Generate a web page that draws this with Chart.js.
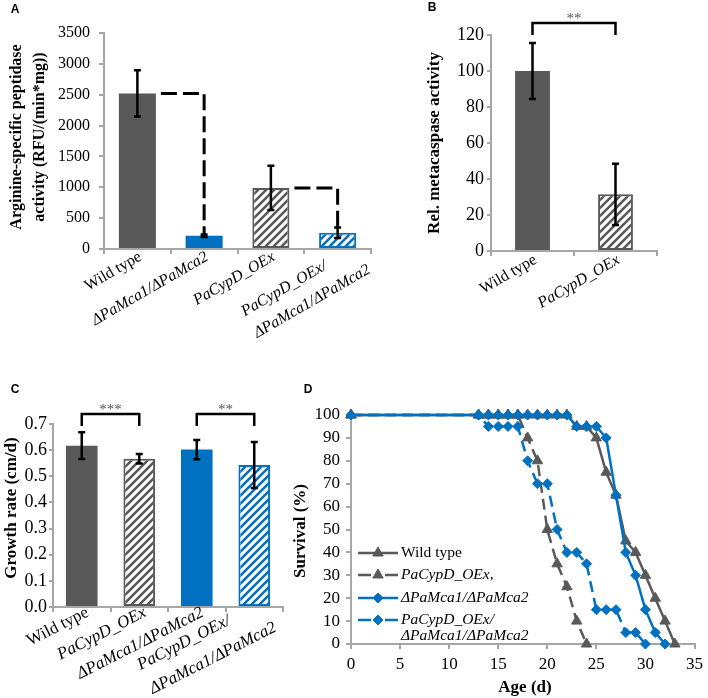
<!DOCTYPE html>
<html>
<head>
<meta charset="utf-8">
<script src="https://cdn.jsdelivr.net/npm/chart.js@4.4.0/dist/chart.umd.min.js"></script>
<style>
  html, body { margin: 0; padding: 0; background: #fff; }
  #wrap { position: relative; width: 708px; height: 698px; overflow: hidden; }
  canvas { position: absolute; left: 0; top: 0; }
</style>
</head>
<body>
<div id="wrap">
  <canvas id="chartA" width="708" height="698"></canvas>
  <canvas id="chartB" width="708" height="698"></canvas>
  <canvas id="chartC" width="708" height="698"></canvas>
  <canvas id="chartD" width="708" height="698"></canvas>
</div>
<script>
const SERIF = '"Liberation Serif", "Times New Roman", serif';
const SANS = '"Liberation Sans", Arial, sans-serif';
const GRAY = '#595959';
const BLUE = '#0070C0';
const AXIS = '#a6a6a6';

// A: arginine-specific peptidase activity
const strainsA = [['Wild type'], ['ΔPaMca1/ΔPaMca2'], ['PaCypD_OEx'], ['PaCypD_OEx/', 'ΔPaMca1/ΔPaMca2']];
const activityA = [2520, 215, 990, 265];
const errorA = [375, 20, 360, 85];

// B: relative metacaspase activity
const strainsB = [['Wild type'], ['PaCypD_OEx']];
const metacaspaseB = [100, 31.5];
const errorB = [15.5, 17];

// C: growth rate
const strainsC = [['Wild type'], ['PaCypD_OEx'], ['ΔPaMca1/ΔPaMca2'], ['PaCypD_OEx/', 'ΔPaMca1/ΔPaMca2']];
const growthC = [0.617, 0.567, 0.602, 0.543];
const errorC = [0.051, 0.018, 0.037, 0.088];

// D: survival curves
const wtAge = [0, 13, 14, 15, 16, 17, 18, 19, 20, 21, 22, 23, 24, 25, 26, 27, 28, 29, 30, 31, 32, 33];
const wtSurvival = [100, 100, 100, 100, 100, 100, 100, 100, 100, 100, 100, 95, 95, 90, 75, 65, 45, 40, 30, 20, 10, 0];
const oexAge = [0, 13, 14, 15, 16, 17, 18, 19, 20, 21, 22, 23, 24];
const oexSurvival = [100, 100, 100, 100, 100, 100, 90, 80, 50, 35, 25, 10, 0];
const mcaAge = [0, 13, 14, 15, 16, 17, 18, 19, 20, 21, 22, 23, 24, 25, 26, 27, 28, 29, 30, 31, 32];
const mcaSurvival = [100, 100, 100, 100, 100, 100, 100, 100, 100, 100, 100, 95, 95, 95, 90, 65, 40, 30, 15, 5, 0];
const oexMcaAge = [0, 13, 14, 15, 16, 17, 18, 19, 20, 21, 22, 23, 24, 25, 26, 27, 28, 29, 30];
const oexMcaSurvival = [100, 100, 95, 95, 95, 95, 80, 70, 70, 50, 40, 40, 35, 15, 15, 15, 5, 5, 0];
const seriesNamesD = [['Wild type'], ['PaCypD_OEx,'], ['ΔPaMca1/ΔPaMca2'], ['PaCypD_OEx/', 'ΔPaMca1/ΔPaMca2']];

Chart.defaults.font.family = SERIF;
Chart.defaults.color = '#000';

function hatch(canvasId, color) {
  const tile = document.createElement('canvas');
  tile.width = 8; tile.height = 8;
  const g = tile.getContext('2d');
  g.fillStyle = '#fff';
  g.fillRect(0, 0, 8, 8);
  g.strokeStyle = color;
  g.lineWidth = 2.6;
  g.beginPath();
  g.moveTo(-2, 10); g.lineTo(10, -2);
  g.moveTo(-2, 2); g.lineTo(2, -2);
  g.moveTo(6, 10); g.lineTo(10, 6);
  g.stroke();
  return document.getElementById(canvasId).getContext('2d').createPattern(tile, 'repeat');
}

// chart area placed at absolute page coordinates; yW / xH are the fixed axis box sizes
function frame(left, top, right, bottom, yW, xH) {
  return { padding: { left: left - yW, top: top, right: 708 - right, bottom: 698 - bottom - xH } };
}

function yAxis(min, max, step, size, pad, tick, yW, fmt) {
  return {
    min: min, max: max,
    ticks: { stepSize: step, autoSkip: false, font: { size: size }, color: '#000', padding: pad,
             callback: fmt || (v => v) },
    grid: { drawOnChartArea: false, tickLength: tick, color: AXIS, lineWidth: 2 },
    border: { color: AXIS, width: 2 },
    afterFit: s => { s.width = yW; }
  };
}

function catAxis() {
  return {
    z: 1,
    ticks: { display: false },
    grid: { drawOnChartArea: false, tickLength: 5, color: AXIS, lineWidth: 2 },
    border: { color: AXIS, width: 2 },
    afterFit: s => { s.height = 20; }
  };
}

function isItalic(text) {
  return text !== 'Wild type';
}

// rotated, left-aligned label blocks; (dx, dy) puts the block's top-right corner
function drawCategoryLabels(chart, labels, cfg) {
  const ctx = chart.ctx;
  const xs = chart.scales.x;
  const axisY = chart.chartArea.bottom;
  const ang = cfg.angle * Math.PI / 180;
  labels.forEach((lines, i) => {
    const cx = xs.getPixelForValue(i);
    const n = lines.length;
    ctx.save();
    ctx.fillStyle = '#000';
    ctx.font = (isItalic(lines[0]) ? 'italic ' : '') + cfg.size + 'px ' + SERIF;
    const W = Math.max(...lines.map(t => ctx.measureText(t).width));
    ctx.translate(cx + cfg.dx + (n - 1) * cfg.mdx, axisY + cfg.dy + (n - 1) * cfg.mdy);
    ctx.rotate(-ang);
    ctx.textAlign = 'left';
    ctx.textBaseline = 'top';
    lines.forEach((t, k) => ctx.fillText(t, -W, k * cfg.lh));
    ctx.restore();
  });
}

function drawErrorBars(chart, values, errors) {
  const ctx = chart.ctx;
  const y = chart.scales.y;
  const meta = chart.getDatasetMeta(0);
  ctx.save();
  ctx.strokeStyle = '#000';
  ctx.lineWidth = 2.5;
  meta.data.forEach((bar, i) => {
    const top = y.getPixelForValue(values[i] + errors[i]);
    const bot = y.getPixelForValue(values[i] - errors[i]);
    ctx.beginPath();
    ctx.moveTo(bar.x, top); ctx.lineTo(bar.x, bot);
    ctx.moveTo(bar.x - 3.5, top); ctx.lineTo(bar.x + 3.5, top);
    ctx.moveTo(bar.x - 3.5, bot); ctx.lineTo(bar.x + 3.5, bot);
    ctx.stroke();
  });
  ctx.restore();
}

function drawBracket(chart, i1, i2, yLine, yLeg, stars) {
  const ctx = chart.ctx;
  const xs = chart.scales.x;
  const x1 = xs.getPixelForValue(i1), x2 = xs.getPixelForValue(i2);
  ctx.save();
  ctx.strokeStyle = '#000';
  ctx.lineWidth = 2.5;
  ctx.beginPath();
  ctx.moveTo(x1, yLeg); ctx.lineTo(x1, yLine); ctx.lineTo(x2, yLine); ctx.lineTo(x2, yLeg);
  ctx.stroke();
  ctx.fillStyle = '#555';
  ctx.font = '15px ' + SERIF;
  ctx.textAlign = 'center';
  ctx.textBaseline = 'alphabetic';
  ctx.fillText(stars, (x1 + x2) / 2, yLine - 0.5);
  ctx.restore();
}

function drawRotatedTitle(ctx, lines, xs, y, size) {
  ctx.save();
  ctx.fillStyle = '#000';
  ctx.font = 'bold ' + size + 'px ' + SERIF;
  ctx.textAlign = 'center';
  ctx.textBaseline = 'middle';
  lines.forEach((t, k) => {
    ctx.save();
    ctx.translate(xs[k], y);
    ctx.rotate(-Math.PI / 2);
    ctx.fillText(t, 0, 0);
    ctx.restore();
  });
  ctx.restore();
}

function drawPanelLetter(ctx, letter, x, y) {
  ctx.save();
  ctx.fillStyle = '#000';
  ctx.font = 'bold 12px ' + SANS;
  ctx.textAlign = 'center';
  ctx.textBaseline = 'middle';
  ctx.fillText(letter, x, y);
  ctx.restore();
}

const baseOptions = {
  responsive: false,
  animation: false,
  devicePixelRatio: 1,
  events: []
};

// ---------- A ----------
new Chart(document.getElementById('chartA'), {
  type: 'bar',
  data: {
    labels: strainsA,
    datasets: [{
      data: activityA,
      backgroundColor: [GRAY, BLUE, hatch('chartA', GRAY), hatch('chartA', BLUE)],
      borderColor: [GRAY, BLUE, GRAY, BLUE],
      borderWidth: [0, 0, 2, 2],
      borderSkipped: false,
      barPercentage: 0.555,
      categoryPercentage: 1
    }]
  },
  options: Object.assign({}, baseOptions, {
    layout: frame(104, 33, 371, 249, 55, 20),
    plugins: { legend: { display: false }, tooltip: { enabled: false } },
    scales: {
      x: catAxis(),
      y: yAxis(0, 3500, 500, 16, 9, 5, 55)
    }
  }),
  plugins: [{
    id: 'panelA',
    afterDatasetsDraw(chart) {
      const ctx = chart.ctx;
      const y = chart.scales.y;
      const bars = chart.getDatasetMeta(0).data;
      ctx.save();
      ctx.strokeStyle = '#000';
      ctx.lineWidth = 3;
      ctx.setLineDash([16, 6]);
      [[0, 1], [2, 3]].forEach(([a, b]) => {
        const level = y.getPixelForValue(activityA[a]);
        const end = y.getPixelForValue(activityA[b] + errorA[b]);
        ctx.beginPath();
        ctx.moveTo(bars[a].x + bars[a].width / 2 + 5, level);
        ctx.lineTo(bars[b].x, level);
        ctx.lineTo(bars[b].x, end);
        ctx.stroke();
      });
      ctx.restore();
      drawErrorBars(chart, activityA, errorA);
    },
    afterDraw(chart) {
      drawCategoryLabels(chart, strainsA, { angle: 30, size: 16, dx: -1, dy: 0, mdx: 16, mdy: -9, lh: 25 });
      drawRotatedTitle(chart.ctx, ['Arginine-specific peptidase', 'activity (RFU/(min*mg))'], [17, 40], 137, 16);
      drawPanelLetter(chart.ctx, 'A', 15, 10);
    }
  }]
});

// ---------- B ----------
new Chart(document.getElementById('chartB'), {
  type: 'bar',
  data: {
    labels: strainsB,
    datasets: [{
      data: metacaspaseB,
      backgroundColor: [GRAY, hatch('chartB', GRAY)],
      borderColor: [GRAY, GRAY],
      borderWidth: [0, 2],
      borderSkipped: false,
      barPercentage: 0.42,
      categoryPercentage: 1
    }]
  },
  options: Object.assign({}, baseOptions, {
    layout: frame(491, 35, 657, 251, 45, 20),
    plugins: { legend: { display: false }, tooltip: { enabled: false } },
    scales: {
      x: catAxis(),
      y: yAxis(0, 120, 20, 18, 3, 4, 45)
    }
  }),
  plugins: [{
    id: 'panelB',
    afterDatasetsDraw(chart) {
      drawErrorBars(chart, metacaspaseB, errorB);
    },
    afterDraw(chart) {
      drawBracket(chart, 0, 1, 23, 35, '**');
      drawCategoryLabels(chart, strainsB, { angle: 30, size: 16, dx: -1, dy: 1, mdx: 0, mdy: 0, lh: 25 });
      drawRotatedTitle(chart.ctx, ['Rel. metacaspase activity'], [435], 143, 17);
      drawPanelLetter(chart.ctx, 'B', 432, 8);
    }
  }]
});

// ---------- C ----------
new Chart(document.getElementById('chartC'), {
  type: 'bar',
  data: {
    labels: strainsC,
    datasets: [{
      data: growthC,
      backgroundColor: [GRAY, hatch('chartC', GRAY), BLUE, hatch('chartC', BLUE)],
      borderColor: [GRAY, GRAY, BLUE, BLUE],
      borderWidth: [0, 2, 0, 2],
      borderSkipped: false,
      barPercentage: 0.55,
      categoryPercentage: 1
    }]
  },
  options: Object.assign({}, baseOptions, {
    layout: frame(53, 424, 283, 607, 40, 20),
    plugins: { legend: { display: false }, tooltip: { enabled: false } },
    scales: {
      x: catAxis(),
      y: yAxis(0, 0.7, 0.1, 18, 2, 4, 40, v => Number(v).toFixed(1))
    }
  }),
  plugins: [{
    id: 'panelC',
    afterDatasetsDraw(chart) {
      drawErrorBars(chart, growthC, errorC);
    },
    afterDraw(chart) {
      drawBracket(chart, 0, 1, 414, 426, '***');
      drawBracket(chart, 2, 3, 414, 426, '**');
      drawCategoryLabels(chart, strainsC, { angle: 27, size: 17, dx: 2, dy: -3, mdx: 3, mdy: -9, lh: 27 });
      drawRotatedTitle(chart.ctx, ['Growth rate (cm/d)'], [12], 508, 17);
      drawPanelLetter(chart.ctx, 'C', 15, 390);
    }
  }]
});

// ---------- D ----------
function points(ages, values) {
  return ages.map((a, i) => ({ x: a, y: values[i] }));
}

const styleD = [
  { color: GRAY, dash: [], point: 'triangle', radius: 6 },
  { color: GRAY, dash: [11, 6], point: 'triangle', radius: 6 },
  { color: BLUE, dash: [], point: 'rectRot', radius: 5 },
  { color: BLUE, dash: [11, 6], point: 'rectRot', radius: 5 }
];
const seriesD = [[wtAge, wtSurvival], [oexAge, oexSurvival], [mcaAge, mcaSurvival], [oexMcaAge, oexMcaSurvival]];

new Chart(document.getElementById('chartD'), {
  type: 'line',
  data: {
    datasets: seriesD.map((s, i) => ({
      data: points(s[0], s[1]),
      borderColor: styleD[i].color,
      backgroundColor: styleD[i].color,
      borderWidth: 2.5,
      borderDash: styleD[i].dash,
      pointStyle: styleD[i].point,
      pointRadius: styleD[i].radius,
      pointBorderWidth: 1,
      tension: 0,
      clip: false,
      order: 3 - i
    }))
  },
  options: Object.assign({}, baseOptions, {
    layout: frame(351, 415, 700, 644, 45, 30),
    plugins: { legend: { display: false }, tooltip: { enabled: false } },
    scales: {
      x: {
        type: 'linear', min: 0, max: 35,
        ticks: { stepSize: 5, font: { size: 17 }, color: '#000', padding: 5 },
        grid: { drawOnChartArea: false, tickLength: 5, color: AXIS, lineWidth: 2 },
        border: { color: AXIS, width: 2 },
        afterFit: s => { s.height = 30; }
      },
      y: yAxis(0, 100, 10, 17, 6, 5, 45)
    }
  }),
  plugins: [{
    id: 'panelD',
    afterDraw(chart) {
      const ctx = chart.ctx;
      const rows = [553, 575, 598, 620];
      seriesNamesD.forEach((lines, i) => {
        const st = styleD[i];
        const ry = rows[i];
        ctx.save();
        ctx.strokeStyle = st.color;
        ctx.fillStyle = st.color;
        ctx.lineWidth = 2.5;
        ctx.beginPath();
        if (st.dash.length) {
          ctx.moveTo(358, ry); ctx.lineTo(371, ry);
          ctx.moveTo(385, ry); ctx.lineTo(398, ry);
        } else {
          ctx.moveTo(358, ry); ctx.lineTo(398, ry);
        }
        ctx.stroke();
        ctx.lineWidth = 1;
        Chart.helpers.drawPoint(ctx, { pointStyle: st.point, radius: st.radius, rotation: 0, borderWidth: 1 }, 378, ry);
        ctx.fillStyle = '#000';
        ctx.font = (isItalic(lines[0]) ? 'italic ' : '') + '15.5px ' + SERIF;
        ctx.textAlign = 'left';
        ctx.textBaseline = 'middle';
        lines.forEach((t, k) => ctx.fillText(t, 401, ry + k * 15.5));
        ctx.restore();
      });
      drawRotatedTitle(ctx, ['Survival (%)'], [301], 531, 17);
      ctx.save();
      ctx.fillStyle = '#000';
      ctx.font = 'bold 17px ' + SERIF;
      ctx.textAlign = 'center';
      ctx.textBaseline = 'middle';
      ctx.fillText('Age (d)', 525, 688);
      ctx.restore();
      drawPanelLetter(ctx, 'D', 308, 390);
    }
  }]
});
</script>
</body>
</html>
